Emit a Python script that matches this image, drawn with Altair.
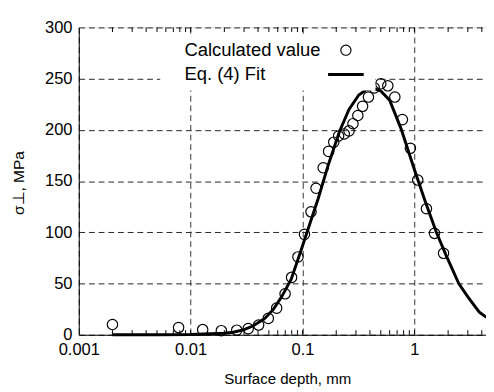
import altair as alt
import pandas as pd

# ---- data ----
calc_x = [0.002, 0.0078, 0.0128, 0.0188, 0.0258, 0.0327, 0.0405, 0.0494, 0.0587,
          0.0698, 0.0798, 0.091, 0.104, 0.119, 0.132, 0.153, 0.171, 0.19, 0.21,
          0.236, 0.26, 0.282, 0.312, 0.344, 0.388, 0.437, 0.5, 0.578, 0.668,
          0.78, 0.92, 1.07, 1.28, 1.51, 1.82]
calc_y = [10, 7, 5, 4, 4.5, 6, 9.5, 16, 26,
          40, 56, 76, 98, 120, 143, 163, 179, 188, 194,
          196, 199, 206, 214, 223, 232, 241, 245, 243, 232,
          210, 182, 151, 123, 99, 79.5]

fit_x = [0.002, 0.005, 0.01, 0.015, 0.02, 0.024, 0.03, 0.036, 0.046, 0.055, 0.065,
         0.079, 0.096, 0.12, 0.138, 0.17, 0.213, 0.26, 0.318, 0.37, 0.43, 0.5,
         0.6, 0.76, 1.0, 1.24, 1.57, 1.91, 2.49, 3.0, 3.8, 4.4]
fit_y = [0, 0, 0.3, 1, 1.5, 2.5, 5, 8.5, 16, 25, 37,
         54, 81, 113, 133, 166, 198, 220, 234, 239, 240.5, 238,
         229, 201, 161, 131, 100, 78, 50, 37, 22, 17]

minor_ticks = [0.002, 0.003, 0.004, 0.005, 0.006, 0.007, 0.008, 0.009, 0.01,
               0.02, 0.03, 0.04, 0.05, 0.06, 0.07, 0.08, 0.09, 0.1,
               0.2, 0.3, 0.4, 0.5, 0.6, 0.7, 0.8, 0.9, 1, 2, 3, 4]
x_label_values = [0.001, 0.01, 0.1, 1]
y_label_values = [0, 50, 100, 150, 200, 250, 300]
series_names = ["Calculated value", "Eq. (4) Fit"]
x_domain = [0.001, 4.36]
y_domain = [0, 300]
tick_len = 4.5  # tick length in y units (about 5 px)

W, H = 420, 317
FONT = "Liberation Sans"

pts = pd.DataFrame({"x": calc_x, "y": calc_y, "series": series_names[0]})
fit = pd.DataFrame({"x": fit_x, "y": fit_y, "series": series_names[1]})
ticks_b = pd.DataFrame({"x": minor_ticks, "y": y_domain[0], "y2": y_domain[0] + tick_len})
ticks_t = pd.DataFrame({"x": minor_ticks, "y": y_domain[1] - tick_len, "y2": y_domain[1]})

xscale = alt.Scale(type="log", domain=x_domain, nice=False)
yscale = alt.Scale(domain=y_domain, nice=False)

shape_scale = alt.Scale(domain=series_names, range=["circle", "M-3.5,0H3.5"])
sw_scale = alt.Scale(domain=series_names, range=[1.2, 3])

legend = alt.Legend(
    title=None, orient="none", legendX=84, legendY=8,
    fillColor="white", padding=6, symbolSize=110,
    labelFont=FONT, labelFontSize=19, labelColor="black",
    labelAlign="left", labelOffset=alt.ExprRef(expr="-176"), symbolOffset=176,
    symbolStrokeColor="black", symbolFillColor="transparent",
    rowPadding=5,
)

x_axis = alt.Axis(
    orient="bottom", values=x_label_values, format="~g",
    labelFont=FONT, labelFontSize=17, labelColor="black", labelPadding=7,
    labelFlush=False,
    ticks=False, domain=True, domainColor="black",
    grid=True, gridDash=[6, 4], gridColor="#333", gridWidth=1,
    title="Surface depth, mm", titleFont=FONT, titleFontSize=15.5,
    titleFontWeight="normal", titleColor="black", titleX=215, titleY=45,
    titleBaseline="middle",
)
y_axis = alt.Axis(
    values=y_label_values,
    labelFont=FONT, labelFontSize=17, labelColor="black", labelPadding=7,
    ticks=False, domain=True, domainColor="black",
    grid=True, gridDash=[6, 4], gridColor="#222", gridWidth=1,
    title="σ⊥, MPa", titleFont=FONT, titleFontSize=16,
    titleFontWeight="normal", titleColor="black", titleX=-62, titleY=160,
    titleBaseline="middle", titleAlign="center",
)

X = alt.X("x:Q", scale=xscale, axis=x_axis)
Y = alt.Y("y:Q", scale=yscale, axis=y_axis)

points = alt.Chart(pts).mark_point(filled=False, color="black", opacity=1, size=115).encode(
    x=X, y=Y,
    shape=alt.Shape("series:N", scale=shape_scale, legend=legend),
    strokeWidth=alt.StrokeWidth("series:N", scale=sw_scale, legend=legend),
)

line = alt.Chart(fit).mark_line(color="black").encode(
    x=X, y=Y,
    strokeWidth=alt.StrokeWidth("series:N", scale=sw_scale, legend=legend),
)

ticks_bottom = alt.Chart(ticks_b).mark_rule(color="black", strokeWidth=1).encode(
    x=X, y=Y, y2="y2:Q",
)
ticks_top = alt.Chart(ticks_t).mark_rule(color="black", strokeWidth=1).encode(
    x=X, y=Y, y2="y2:Q",
)

chart = alt.layer(line, points, ticks_bottom, ticks_top).properties(
    width=W, height=H, autosize="none",
    padding={"left": 73, "top": 14, "right": 0, "bottom": 53},
).configure_view(stroke="black", strokeWidth=1).configure_axis(
    gridDash=[6, 4]
).configure(background="white")

chart.save("out.html", embed_options={"renderer": "svg", "actions": False})
